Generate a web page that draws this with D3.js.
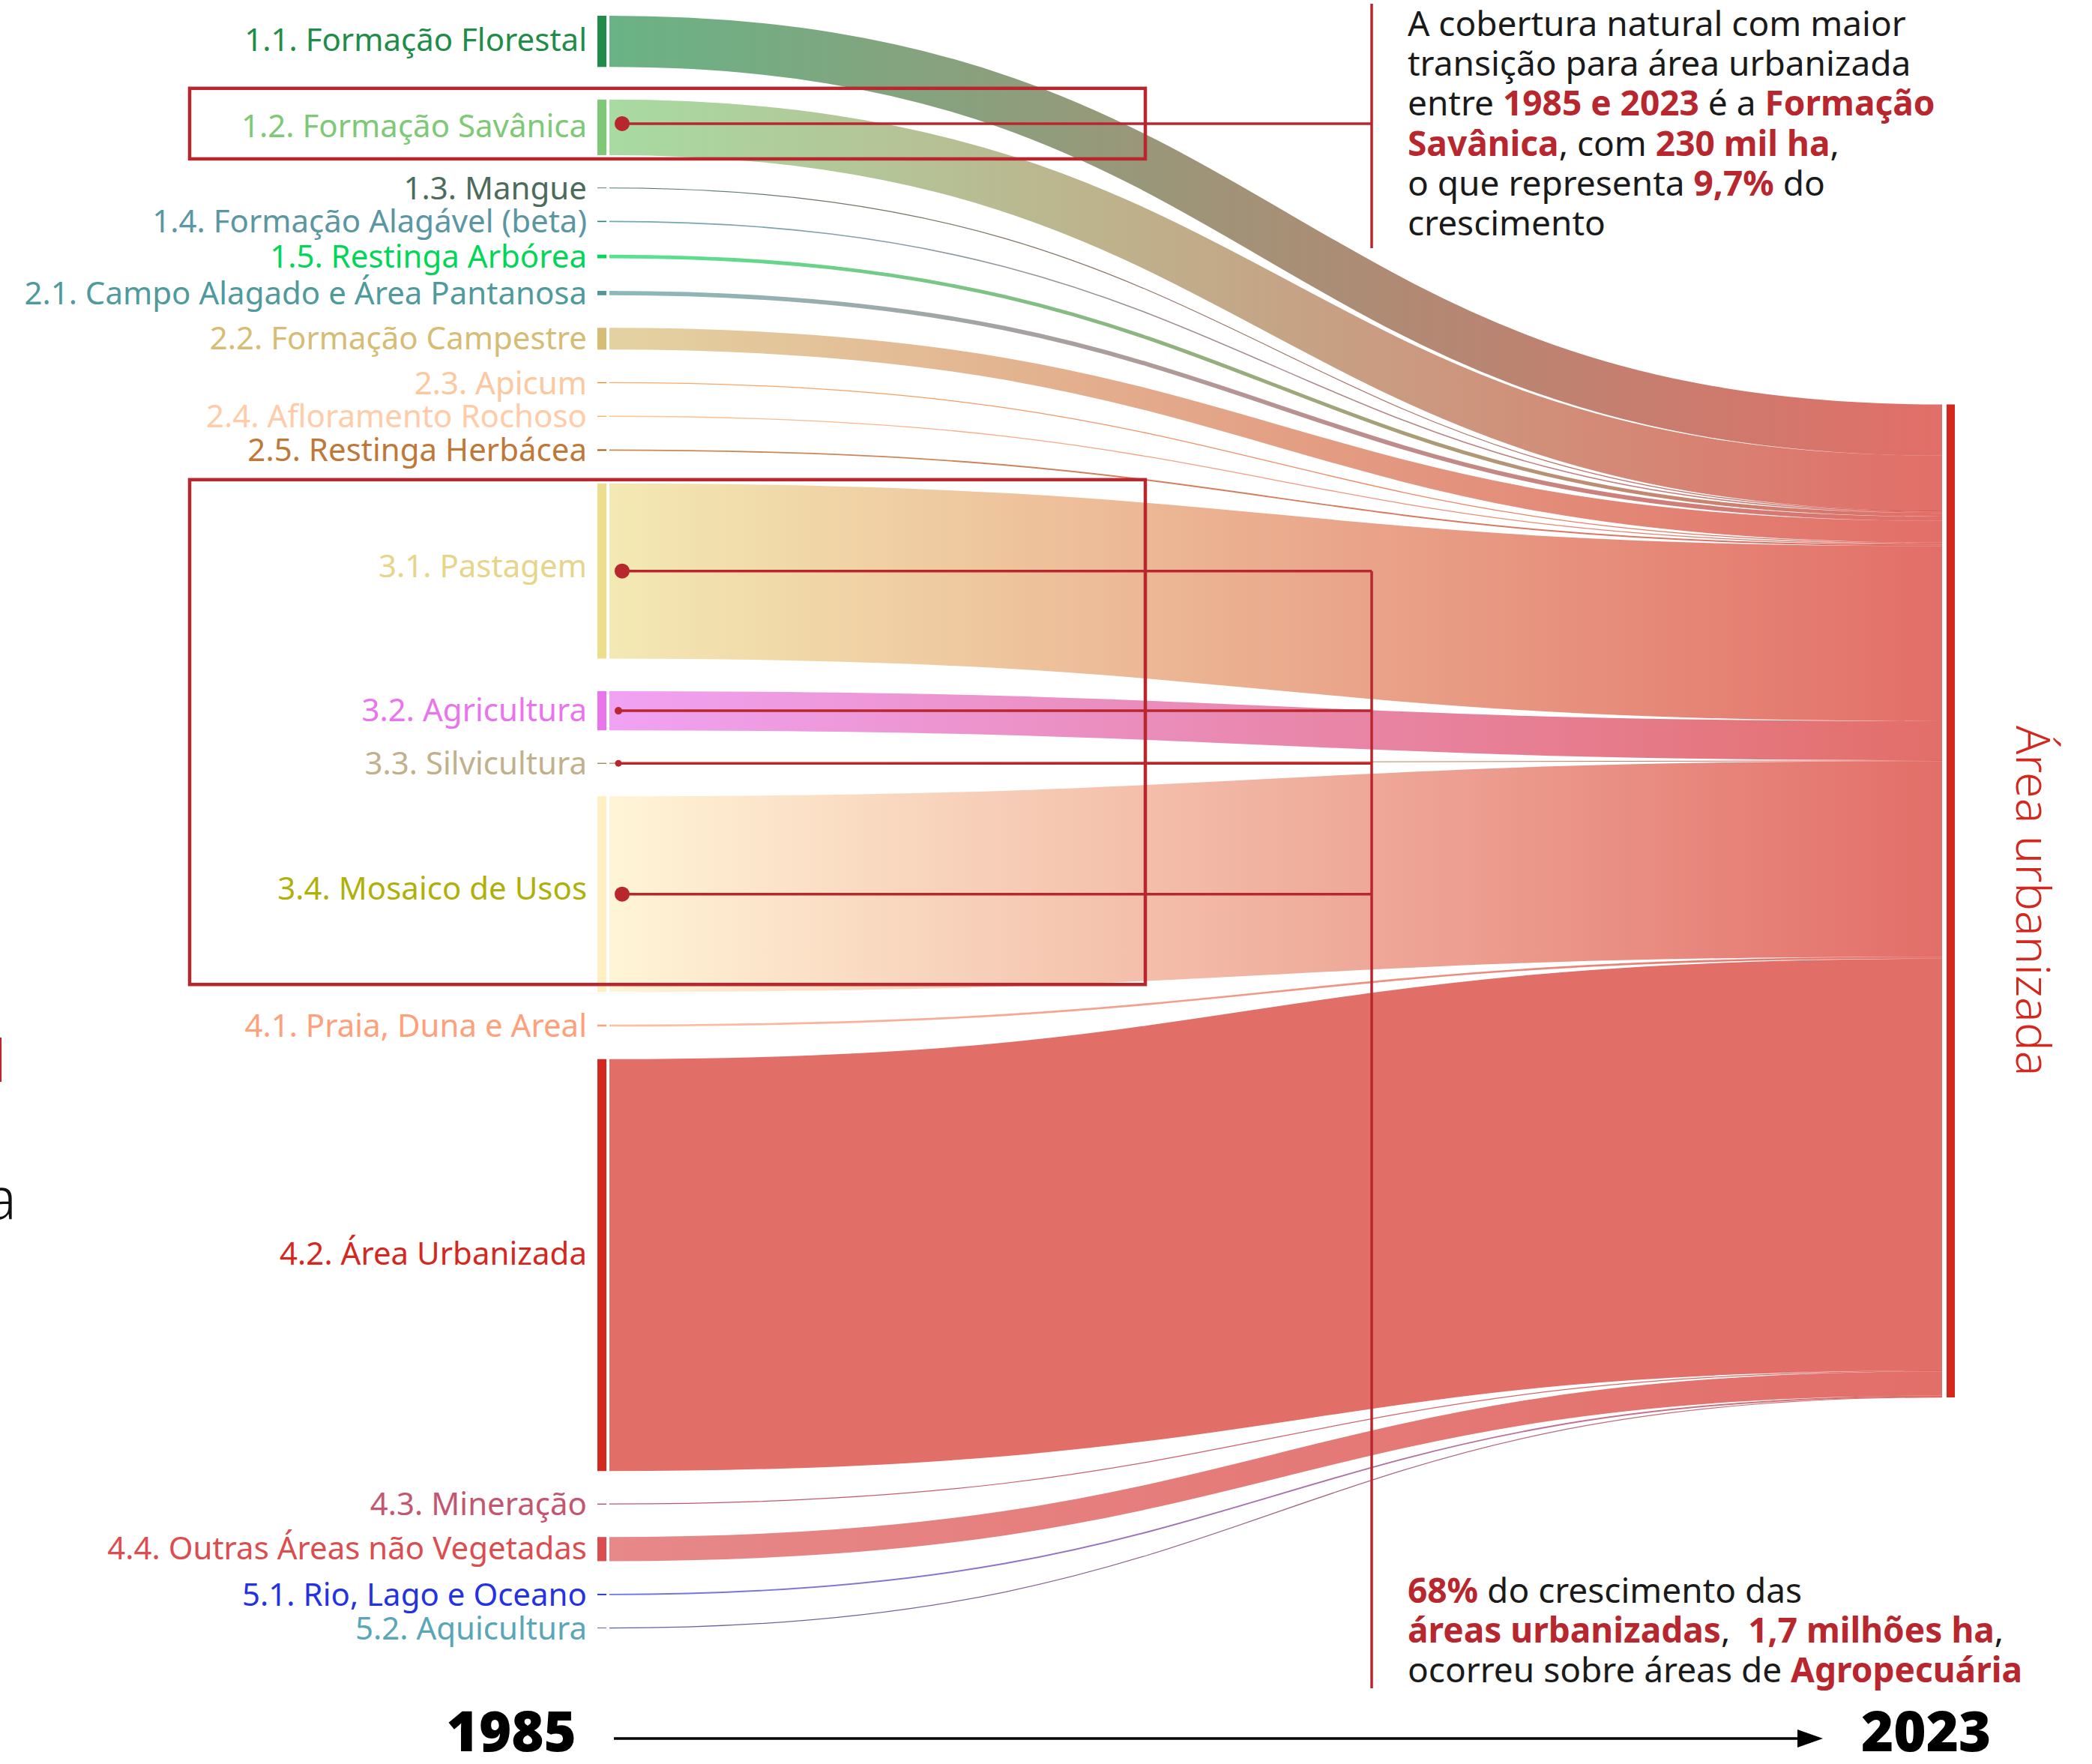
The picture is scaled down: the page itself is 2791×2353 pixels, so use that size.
<!DOCTYPE html>
<html>
<head>
<meta charset="utf-8">
<script src="https://cdn.jsdelivr.net/npm/d3@7"></script>
<style>
    html, body { margin: 0; padding: 0; background: #fff; }
    svg { display: block; }
    text { font-family: "Noto Sans", "Open Sans", sans-serif; white-space: pre; }
</style>
</head>
<body>
<svg id="chart" width="2791" height="2353"></svg>
<script>
// classes de cobertura em 1985 que viraram área urbanizada em 2023 (mil ha)
const classes = [
    '1.1. Formação Florestal', '1.2. Formação Savânica', '1.3. Mangue',
    '1.4. Formação Alagável (beta)', '1.5. Restinga Arbórea',
    '2.1. Campo Alagado e Área Pantanosa', '2.2. Formação Campestre', '2.3. Apicum',
    '2.4. Afloramento Rochoso', '2.5. Restinga Herbácea',
    '3.1. Pastagem', '3.2. Agricultura', '3.3. Silvicultura', '3.4. Mosaico de Usos',
    '4.1. Praia, Duna e Areal', '4.2. Área Urbanizada', '4.3. Mineração',
    '4.4. Outras Áreas não Vegetadas', '5.1. Rio, Lago e Oceano', '5.2. Aquicultura'
];
const areaKha = [212, 230, 2, 5, 15, 18, 90, 4, 4, 6, 725, 162, 3, 810, 8, 1705, 3, 100, 6, 2];
const nodeColors = [
    '#1f8d49', '#7dc975', '#04381d', '#2a7f8f', '#02d659',
    '#519799', '#d6bc74', '#fc8114', '#ffaa5f', '#ad5100',
    '#edde8e', '#e974ed', '#7a5900', '#ffefc3',
    '#ffa07a', '#d4271e', '#9c0027', '#db4d4f', '#2532e4', '#091077'
];
const labelColors = [
    '#1f8d49', '#7dc975', '#4d6b5c', '#5b97a3', '#02d659',
    '#4f9a9c', '#d6bc74', '#fcc8a0', '#ffcba8', '#c07838',
    '#e6d58a', '#e974ed', '#c2b08c', '#b0b00a',
    '#ffa07a', '#d4271e', '#c35670', '#db4d4f', '#2532e4', '#5aa6b8'
];
const targetName = 'Área urbanizada';
const targetColor = '#d4271e';
const years = ['1985', '2023'];

const note1 = [
    [['A cobertura natural com maior', 0]],
    [['transição para área urbanizada', 0]],
    [['entre ', 0], ['1985 e 2023', 1], [' é a ', 0], ['Formação', 1]],
    [['Savânica', 1], [', com ', 0], ['230 mil ha', 1], [',', 0]],
    [['o que representa ', 0], ['9,7%', 1], [' do', 0]],
    [['crescimento', 0]]
];
const note2 = [
    [['68%', 1], [' do crescimento das', 0]],
    [['áreas urbanizadas', 1], [',  ', 0], ['1,7 milhões ha', 1], [',', 0]],
    [['ocorreu sobre áreas de ', 0], ['Agropecuária', 1]]
];

const red = '#b8262e';
const svg = d3.select('#chart');
const defs = svg.append('defs');

// layout
const colTop = 21, colBottom = 2172, pad = 43.5;
const nodeX0 = 797, nodeW = 12, linkX0 = 813, linkX1 = 2591, rightX0 = 2597, rightW = 11;
const labelX = 783;

const total = d3.sum(areaKha);
const n = areaKha.length;
const ky = d3.scaleLinear()
    .domain([0, total])
    .range([0, colBottom - colTop - (n - 1) * pad]);

let cum = 0;
const nodes = areaKha.map((v, i) => {
    const d = { i, v, name: classes[i], before: cum };
    d.y0 = colTop + ky(cum) + i * pad;
    d.y1 = d.y0 + ky(v);
    d.yc = (d.y0 + d.y1) / 2;
    cum += v;
    return d;
});

// alvo posicionado como na relaxação do sankey: média ponderada do alinhamento das ligações
const rightTop = d3.sum(nodes, d => d.v * (d.y0 - ky(d.before))) / total + 8;
const rightBottom = rightTop + ky(total);

const link = d3.linkHorizontal();

nodes.forEach(d => {
    const g = defs.append('linearGradient')
        .attr('id', 'grad' + d.i)
        .attr('gradientUnits', 'userSpaceOnUse')
        .attr('x1', linkX0).attr('x2', linkX1);
    g.append('stop').attr('offset', '0%').attr('stop-color', nodeColors[d.i]);
    g.append('stop').attr('offset', '100%').attr('stop-color', targetColor);
});

svg.append('g')
    .attr('fill', 'none')
    .selectAll('path')
    .data(nodes).enter().append('path')
    .attr('d', d => {
        const w = ky(d.v);
        return link({
            source: [linkX0, d.y0 + w / 2],
            target: [linkX1, rightTop + ky(d.before) + w / 2]
        });
    })
    .attr('stroke', d => `url(#grad${d.i})`)
    .attr('stroke-opacity', 0.67)
    .attr('stroke-width', d => Math.max(ky(d.v), 1.2));

svg.append('g')
    .selectAll('rect')
    .data(nodes).enter().append('rect')
    .attr('x', nodeX0)
    .attr('y', d => d.y0)
    .attr('width', nodeW)
    .attr('height', d => d.y1 - d.y0)
    .attr('fill', d => nodeColors[d.i]);

svg.append('rect')
    .attr('x', rightX0).attr('y', rightTop)
    .attr('width', rightW).attr('height', rightBottom - rightTop)
    .attr('fill', targetColor);

svg.append('g')
    .selectAll('text')
    .data(nodes).enter().append('text')
    .attr('x', labelX)
    .attr('y', d => d.yc - Math.min(ky(d.v) * 0.03, 16))
    .attr('dy', '0.36em')
    .attr('text-anchor', 'end')
    .attr('font-size', 42)
    .attr('fill', d => labelColors[d.i])
    .text(d => d.name);

svg.append('text')
    .attr('transform', `translate(2690,${(rightTop + rightBottom) / 2}) rotate(90)`)
    .attr('text-anchor', 'middle')
    .attr('font-family', 'Lato')
    .attr('font-weight', 300)
    .attr('font-size', 63)
    .attr('fill', targetColor)
    .text(targetName);

// destaques
const ann = svg.append('g').attr('fill', 'none').attr('stroke', red);
const boxX0 = 253, boxX1 = 1528, connX = 1830;
const sav = nodes[1], past = nodes[10], agri = nodes[11], silv = nodes[12], mos = nodes[13];

ann.append('rect')
    .attr('x', boxX0).attr('y', sav.y0 - 15)
    .attr('width', boxX1 - boxX0).attr('height', sav.y1 - sav.y0 + 20)
    .attr('stroke-width', 4.5);
ann.append('rect')
    .attr('x', boxX0).attr('y', past.y0 - 5)
    .attr('width', boxX1 - boxX0).attr('height', mos.y1 - past.y0 - 5)
    .attr('stroke-width', 4.5);

const savY = sav.yc - 5;
[[sav, savY], [past, past.yc], [agri, agri.yc], [silv, silv.yc], [mos, mos.yc]].forEach(d => {
    ann.append('line')
        .attr('x1', 828).attr('x2', connX)
        .attr('y1', d[1]).attr('y2', d[1])
        .attr('stroke-width', 3.5);
});
ann.append('line')
    .attr('x1', connX).attr('x2', connX).attr('y1', 5).attr('y2', 331)
    .attr('stroke-width', 3.5);
ann.append('line')
    .attr('x1', connX).attr('x2', connX).attr('y1', past.yc).attr('y2', 2252)
    .attr('stroke-width', 3.5);

svg.append('g')
    .selectAll('circle')
    .data([[savY, 10], [past.yc, 10], [agri.yc, 5], [silv.yc, 4.5], [mos.yc, 10]])
    .enter().append('circle')
    .attr('cx', d => d[1] > 6 ? 830 : 825)
    .attr('cy', d => d[0])
    .attr('r', d => d[1])
    .attr('fill', red);

function drawNote(lines, x, y0, lh) {
    const t = svg.append('text')
        .attr('font-size', 46)
        .attr('fill', '#1a1a1a');
    lines.forEach((parts, k) => {
        parts.forEach((p, j) => {
            const ts = t.append('tspan').text(p[0]);
            if (j === 0) ts.attr('x', x).attr('y', y0 + k * lh);
            if (p[1]) ts.attr('font-weight', 700).attr('fill', red);
        });
    });
}
drawNote(note1, 1878, 48, 53.2);
drawNote(note2, 1878, 2138, 53);

// eixo do tempo
svg.append('g')
    .selectAll('text')
    .data(years).enter().append('text')
    .attr('x', (d, i) => i ? 2483 : 769)
    .attr('y', 2336)
    .attr('text-anchor', (d, i) => i ? 'start' : 'end')
    .attr('font-family', 'Lato')
    .attr('font-weight', 900)
    .attr('font-size', 74)
    .attr('fill', '#000')
    .text(d => d);
svg.append('line')
    .attr('x1', 819).attr('x2', 2405)
    .attr('y1', 2319).attr('y2', 2319)
    .attr('stroke', '#000').attr('stroke-width', 3.5);
svg.append('path')
    .attr('d', 'M2398,2307L2432,2319L2398,2331Z')
    .attr('fill', '#000');

// restos do painel vizinho, cortados na borda esquerda
svg.append('text')
    .attr('x', 22).attr('y', 1626).attr('text-anchor', 'end')
    .attr('font-family', 'Lato').attr('font-weight', 300).attr('font-size', 78)
    .attr('fill', '#111').text('a');
svg.append('text')
    .attr('x', 9).attr('y', 1443).attr('text-anchor', 'end')
    .attr('font-family', 'Lato').attr('font-weight', 300).attr('font-size', 78)
    .attr('fill', red).text('l');
</script>
</body>
</html>
